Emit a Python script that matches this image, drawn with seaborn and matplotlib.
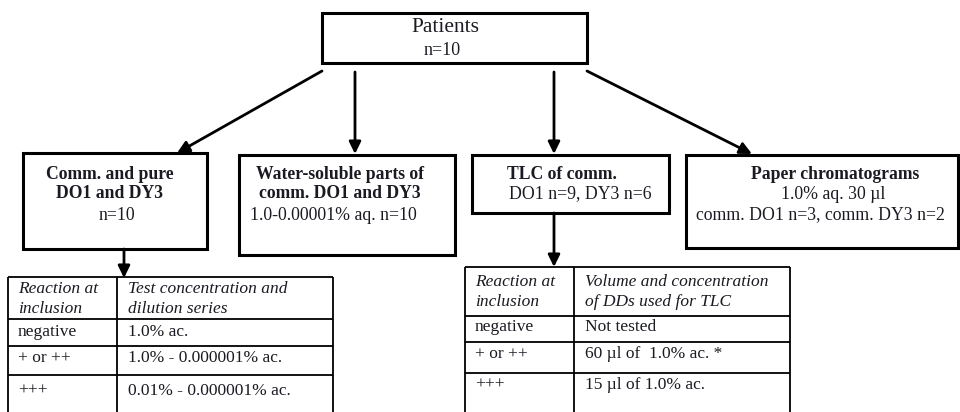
import matplotlib
matplotlib.use("Agg")
import matplotlib.pyplot as plt
import seaborn as sns
from matplotlib.patches import Rectangle

sns.set_theme(style="white")
plt.rcParams['font.family'] = ['Liberation Serif', 'DejaVu Serif']

# ---- content ----
root_title = "Patients"
root_n = "n=10"

box_titles = ["Comm. and pure\nDO1 and DY3", "Water-soluble parts of\ncomm. DO1 and DY3",
              "TLC of comm.", "Paper chromatograms"]
box_details = [["n=10"], ["1.0-0.00001% aq. n=10"], ["DO1 n=9, DY3 n=6"],
               ["1.0% aq. 30 µl", "comm. DO1 n=3, comm. DY3 n=2"]]

table1_header = ["Reaction at\ninclusion", "Test concentration and\ndilution series"]
table1_reaction = ["negative", "+ or ++", "+++"]
table1_values = ["1.0% ac.", "1.0% - 0.000001% ac.", "0.01% - 0.000001% ac."]

table2_header = ["Reaction at\ninclusion", "Volume and concentration\nof DDs used for TLC"]
table2_reaction = ["negative", "+ or ++", "+++"]
table2_values = ["Not tested", "60 µl of  1.0% ac. *", "15 µl of 1.0% ac."]

# ---- layout ----
fig = plt.figure(figsize=(9.6, 4.12), dpi=100)
ax = fig.add_axes([0, 0, 1, 1])
ax.set_xlim(0, 960)
ax.set_ylim(412, 0)
ax.axis('off')

TXT = '#1a1a22'

def box(x0, y0, x1, y1, lw=2.2):
    ax.add_patch(Rectangle((x0, y0), x1 - x0, y1 - y0, fill=False, lw=lw, ec='black'))

def arrow(x0, y0, x1, y1):
    ax.annotate('', xy=(x1, y1), xytext=(x0, y0),
                arrowprops=dict(arrowstyle='-|>,head_length=0.45,head_width=0.22',
                                lw=2.0, color='black',
                                mutation_scale=16, shrinkA=0, shrinkB=0))

# root
box(322, 13, 587, 63)
ax.text(445, 27, root_title, ha='center', va='center', fontsize=15.5, color=TXT)
ax.text(442, 50, root_n, ha='center', va='center', fontsize=13, color=TXT)

# arrows from root
arrow(322, 71, 177, 153)
arrow(355, 72, 355, 154)
arrow(554, 72, 554, 154)
arrow(587, 71, 752, 154)

# child boxes
rects = [(23, 153, 207, 249), (239, 155, 455, 255), (472, 155, 669, 213), (686, 155, 958, 248)]
for r in rects:
    box(*r)

title_pos = [(110, 184), (340, 184), (562, 174), (835, 174)]
for (x, y), t in zip(title_pos, box_titles):
    ax.text(x, y, t, ha='center', va='center', fontsize=12.7, fontweight='bold',
            color=TXT, linespacing=1.2)

detail_pos = [[(117, 215)], [(333, 215)], [(580, 194)], [(833, 194), (820, 215)]]
for plist, dlist in zip(detail_pos, box_details):
    for (x, y), d in zip(plist, dlist):
        ax.text(x, y, d, ha='center', va='center', fontsize=12.8, color=TXT)

arrow(124, 249, 124, 278)
arrow(554, 213, 554, 267)

# tables
def table(xs, ys, header, reactions, values, hy, ry):
    x0, xm, x1 = xs
    for y in ys:
        ax.plot([x0, x1], [y, y], color='black', lw=1.3, solid_capstyle='butt')
    ytop, ybot = ys[0], 412
    for x in xs:
        ax.plot([x, x], [ytop, ybot], color='black', lw=1.3, solid_capstyle='butt')
    ax.text(x0 + 10, hy, header[0], ha='left', va='center', fontsize=12.5,
            style='italic', color=TXT, linespacing=1.32)
    ax.text(xm + 11, hy, header[1], ha='left', va='center', fontsize=12.5,
            style='italic', color=TXT, linespacing=1.32)
    for y, r, v in zip(ry, reactions, values):
        ax.text(x0 + 10, y, r, ha='left', va='center', fontsize=12.5, color=TXT)
        ax.text(xm + 11, y, v, ha='left', va='center', fontsize=12.5, color=TXT)

table((8, 117, 333), [277, 319, 346, 375], table1_header, table1_reaction,
      table1_values, 299, [332, 358, 391])
table((465, 574, 790), [267, 316, 342, 373], table2_header, table2_reaction,
      table2_values, 292, [327, 354, 385])

fig.savefig('out.png', dpi=100)
